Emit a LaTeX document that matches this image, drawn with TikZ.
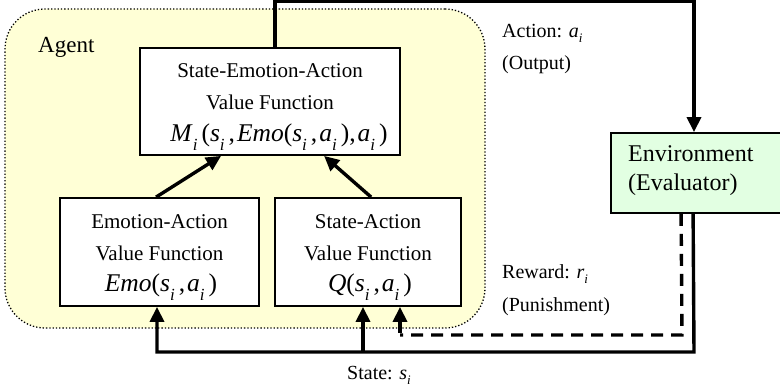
\documentclass[tikz,border=0pt]{standalone}
\usepackage{fontspec}
\setmainfont{Liberation Serif}
\usetikzlibrary{arrows.meta}

\definecolor{agentfill}{RGB}{255,255,214}
\definecolor{envfill}{RGB}{226,255,226}

% italic subscript i inside the formulas and inside the labels
\newcommand\ix{\raisebox{-0.32em}{\fontsize{17}{17}\selectfont\itshape i}\kern4pt}
\newcommand\lx{\raisebox{-0.22em}{\fontsize{13}{13}\selectfont\itshape i}}

\begin{document}
\begin{tikzpicture}[x=1pt, y=-1pt,
  box/.style={draw, line width=1.8pt, fill=white, inner sep=0pt},
  flow/.style={line width=3.4pt, line join=miter, -{Triangle[length=15pt,width=14pt]}},
  plain/.style={line width=3.4pt, line join=miter},
  boxtxt/.style={font=\fontsize{21}{21}\selectfont, inner sep=0pt, anchor=base},
  formula/.style={font=\fontsize{25.5}{25.5}\selectfont, inner sep=0pt, anchor=base},
  lbl/.style={font=\fontsize{20}{20}\selectfont, inner sep=0pt, anchor=base west},
  envtxt/.style={font=\fontsize{24}{24}\selectfont, inner sep=0pt, anchor=base west}]

\useasboundingbox (0,0) rectangle (780,390);
\clip (0,0) rectangle (780,390);

% agent region
\node[draw, dotted, line width=1.3pt, fill=agentfill, rounded corners=40pt,
      minimum width=480pt, minimum height=319pt, inner sep=0pt] (agent) at (245,168.5) {};
\node[font=\fontsize{23}{23}\selectfont, inner sep=0pt, anchor=base west] (agentlbl) at (38,53) {Agent};

% value function boxes
\node[box, minimum width=260pt, minimum height=107pt] (M) at (270,101.5) {};
\node[boxtxt] (M1) at (270,78) {State-Emotion-Action};
\node[boxtxt] (M2) at (270,110) {Value Function};
\node[formula] (M3) at (279,142) {\textit{M}\ix(\textit{s}\ix,\kern2pt\textit{Emo}(\textit{s}\ix,\kern2pt\textit{a}\ix),\kern2pt\textit{a}\ix)};

\node[box, minimum width=199pt, minimum height=108pt] (E) at (159.5,252) {};
\node[boxtxt] (E1) at (159.5,229) {Emotion-Action};
\node[boxtxt] (E2) at (159.5,261) {Value Function};
\node[formula] (E3) at (161,292) {\textit{Emo}(\textit{s}\ix,\kern2pt\textit{a}\ix)};

\node[box, minimum width=186pt, minimum height=108pt] (Q) at (368,252) {};
\node[boxtxt] (Q1) at (368,229) {State-Action};
\node[boxtxt] (Q2) at (368,261) {Value Function};
\node[formula] (Q3) at (370,292) {\textit{Q}(\textit{s}\ix,\kern2pt\textit{a}\ix)};

% environment
\node[box, fill=envfill, minimum width=175pt, minimum height=80pt] (env) at (698.5,173) {};
\node[envtxt] (env1) at (628,162) {Environment};
\node[envtxt] (env2) at (628,191) {(Evaluator)};

% signal labels
\node[lbl] (act1) at (502,38) {Action: \textit{a}\lx};
\node[lbl] (act2) at (502,70) {(Output)};
\node[lbl] (rew1) at (502,279) {Reward: \textit{r}\lx};
\node[lbl] (rew2) at (502,312) {(Punishment)};
\node[lbl] (st) at (347,380) {State: \textit{s}\lx};

% internal arrows
\draw[flow] ([xshift=97pt]E.north west) -- ([xshift=82pt]M.south west);
\draw[flow] ([xshift=97pt]Q.north west) -- ([xshift=185pt]M.south west);

% action path
\coordinate (aL) at (275,1.7);
\coordinate (aR) at (694,1.7);
\draw[flow] (M.north -| aL) -- (aL) -- (aR) -- (aR |- env.north);

% state path
\coordinate (sR) at (694,352);
\coordinate (sL) at (157,352);
\coordinate (sM) at (363,352);
\draw[flow] ([xshift=83pt]env.south west) -- (sR) -- (sL) -- (sL |- E.south);
\draw[flow] (sM) -- (sM |- Q.south);

% reward path
\coordinate (rR) at (682,335);
\coordinate (rL) at (400,335);
\draw[plain, dash pattern=on 12pt off 8pt] ([xshift=71pt]env.south west) -- (rR) -- (rL);
\draw[flow] ([yshift=2pt]rL) -- (rL |- Q.south);

\end{tikzpicture}
\end{document}
